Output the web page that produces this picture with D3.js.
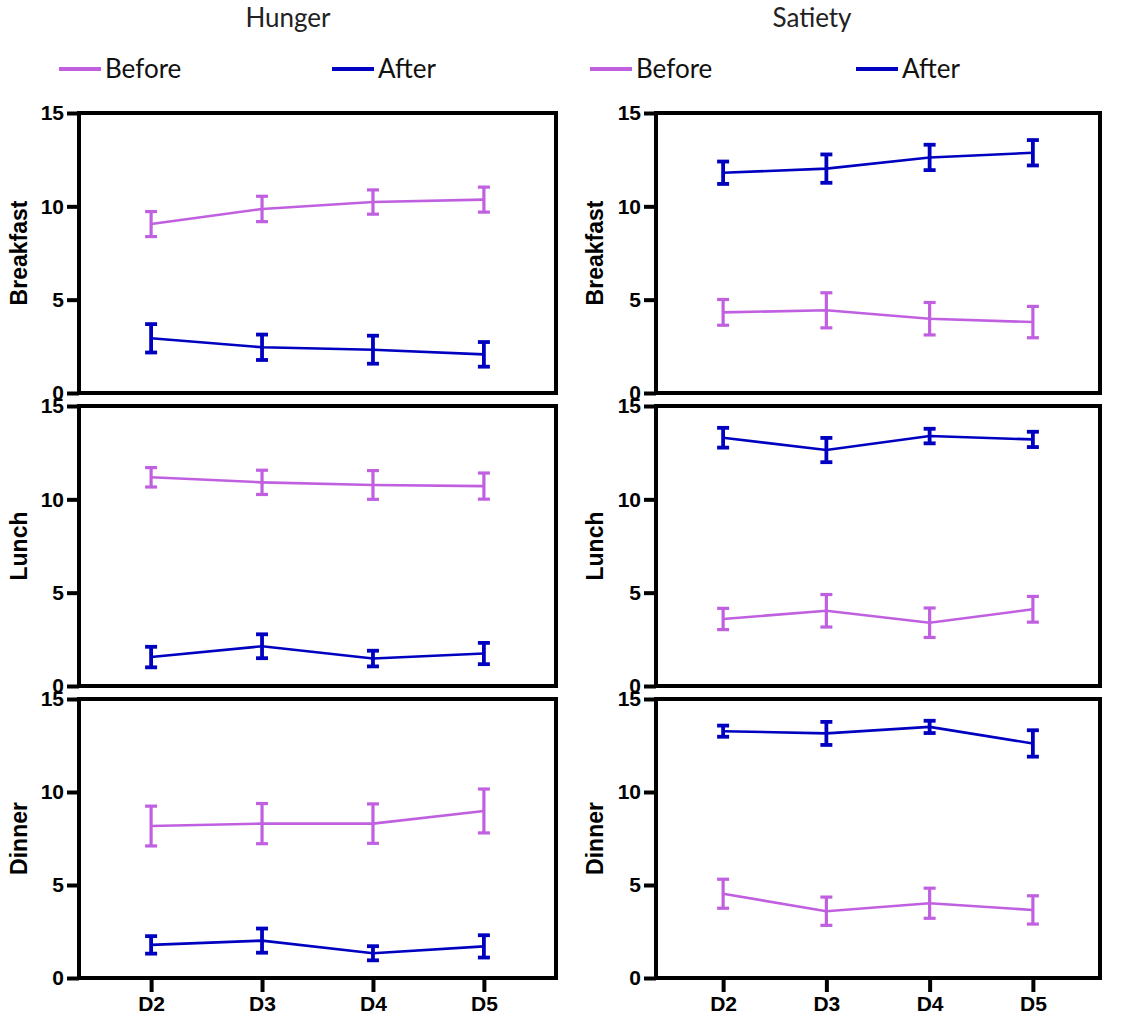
<!DOCTYPE html>
<html><head><meta charset="utf-8">
<script src="https://cdn.jsdelivr.net/npm/d3@7"></script>
<style>body{margin:0;background:#fff}</style>
</head><body>
<script>
// ---------- DATA ----------
const days = ["D2","D3","D4","D5"];
const yTicks = [0,5,10,15];
const columns = ["Hunger","Satiety"];
const meals = ["Breakfast","Lunch","Dinner"];
const seriesNames = ["Before","After"];

// Hunger
const hungerBreakfastBefore = [9.05, 9.86, 10.23, 10.36];
const hungerBreakfastBeforeErr = [0.67, 0.68, 0.65, 0.67];
const hungerBreakfastAfter = [2.93, 2.45, 2.32, 2.07];
const hungerBreakfastAfterErr = [0.76, 0.68, 0.75, 0.66];
const hungerLunchBefore = [11.18, 10.91, 10.77, 10.71];
const hungerLunchBeforeErr = [0.52, 0.65, 0.77, 0.70];
const hungerLunchAfter = [1.55, 2.13, 1.47, 1.74];
const hungerLunchAfterErr = [0.55, 0.64, 0.42, 0.57];
const hungerDinnerBefore = [8.17, 8.30, 8.30, 8.98];
const hungerDinnerBeforeErr = [1.07, 1.08, 1.06, 1.18];
const hungerDinnerAfter = [1.78, 2.01, 1.33, 1.70];
const hungerDinnerAfterErr = [0.47, 0.65, 0.38, 0.60];
// Satiety
const satietyBreakfastBefore = [4.32, 4.43, 3.98, 3.80];
const satietyBreakfastBeforeErr = [0.69, 0.94, 0.87, 0.84];
const satietyBreakfastAfter = [11.80, 12.02, 12.62, 12.87];
const satietyBreakfastAfterErr = [0.60, 0.76, 0.68, 0.68];
const satietyLunchBefore = [3.59, 4.03, 3.39, 4.11];
const satietyLunchBeforeErr = [0.57, 0.87, 0.79, 0.69];
const satietyLunchAfter = [13.30, 12.64, 13.39, 13.21];
const satietyLunchAfterErr = [0.53, 0.65, 0.39, 0.41];
const satietyDinnerBefore = [4.53, 3.59, 4.02, 3.66];
const satietyDinnerBeforeErr = [0.78, 0.76, 0.81, 0.76];
const satietyDinnerAfter = [13.27, 13.15, 13.50, 12.61];
const satietyDinnerAfterErr = [0.30, 0.62, 0.33, 0.71];

const panelData = {
  Hunger: {
    Breakfast: {Before:[hungerBreakfastBefore,hungerBreakfastBeforeErr], After:[hungerBreakfastAfter,hungerBreakfastAfterErr]},
    Lunch: {Before:[hungerLunchBefore,hungerLunchBeforeErr], After:[hungerLunchAfter,hungerLunchAfterErr]},
    Dinner: {Before:[hungerDinnerBefore,hungerDinnerBeforeErr], After:[hungerDinnerAfter,hungerDinnerAfterErr]}
  },
  Satiety: {
    Breakfast: {Before:[satietyBreakfastBefore,satietyBreakfastBeforeErr], After:[satietyBreakfastAfter,satietyBreakfastAfterErr]},
    Lunch: {Before:[satietyLunchBefore,satietyLunchBeforeErr], After:[satietyLunchAfter,satietyLunchAfterErr]},
    Dinner: {Before:[satietyDinnerBefore,satietyDinnerBeforeErr], After:[satietyDinnerAfter,satietyDinnerAfterErr]}
  }
};

// ---------- LAYOUT ----------
const W = 1134, H = 1017;
const colors = {Before:"#c060e0", After:"#0000c0"};
const colX = {Hunger:[79,556], Satiety:[656,1100]};
const rowY = [[113,393],[406,686],[699,978]];
const titleX = {Hunger:288, Satiety:812};
const ylabX = {Hunger:19, Satiety:595};
const legendPos = {Hunger:{Before:59, After:332}, Satiety:{Before:590, After:856}};

const svg = d3.select("body").append("svg").attr("width",W).attr("height",H);
const bold = "'Liberation Sans', Arial, sans-serif";
const reg = "Lato, 'Open Sans', sans-serif";

columns.forEach(col => {
  // Title
  svg.append("text").attr("x",titleX[col]).attr("y",27)
    .attr("text-anchor","middle").attr("font-family",reg).attr("font-size",26)
    .attr("fill","#222").text(col);
  // Legend
  seriesNames.forEach(s => {
    const lx = legendPos[col][s];
    svg.append("line").attr("x1",lx).attr("x2",lx+42).attr("y1",69).attr("y2",69)
      .attr("stroke",colors[s]).attr("stroke-width",4);
    svg.append("text").attr("x",lx+46).attr("y",78)
      .attr("font-family",reg).attr("font-size",26).attr("fill","#111").text(s);
  });

  const x = d3.scalePoint().domain(days).range(colX[col]).padding(0.65);

  meals.forEach((meal, ri) => {
    const [y0, y1] = rowY[ri];
    const y = d3.scaleLinear().domain([0,15]).range([y1,y0]);
    const g = svg.append("g");

    // frame
    g.append("rect").attr("x",colX[col][0]).attr("y",y0)
      .attr("width",colX[col][1]-colX[col][0]).attr("height",y1-y0)
      .attr("fill","none").attr("stroke","#000").attr("stroke-width",4);

    // y axis
    const ya = g.append("g").attr("transform",`translate(${colX[col][0]},0)`)
      .call(d3.axisLeft(y).tickValues(yTicks).tickSize(12).tickPadding(3));
    ya.select(".domain").remove();
    ya.selectAll(".tick line").attr("stroke","#000").attr("stroke-width",4);
    ya.selectAll(".tick text").attr("font-family",bold).attr("font-weight","bold")
      .attr("font-size",21).attr("fill","#000");

    // y label
    g.append("text").attr("transform",`translate(${ylabX[col]},${(y0+y1)/2}) rotate(-90)`)
      .attr("text-anchor","middle").attr("dominant-baseline","central")
      .attr("font-family",bold).attr("font-weight","bold").attr("font-size",23)
      .attr("fill","#000").text(meal);

    // x axis on bottom row
    if (ri === meals.length-1) {
      const xa = g.append("g").attr("transform",`translate(0,${y1})`)
        .call(d3.axisBottom(x).tickSize(14).tickPadding(4));
      xa.select(".domain").remove();
      xa.selectAll(".tick line").attr("stroke","#000").attr("stroke-width",4);
      xa.selectAll(".tick text").attr("font-family",bold).attr("font-weight","bold")
        .attr("font-size",21).attr("fill","#000");
    }

    // series
    seriesNames.forEach(s => {
      const [means, errs] = panelData[col][meal][s];
      const pts = days.map((d,i)=>({d, m:means[i], e:errs[i]}));
      g.append("path").datum(pts)
        .attr("d", d3.line().x(p=>x(p.d)).y(p=>y(p.m)))
        .attr("fill","none").attr("stroke",colors[s]).attr("stroke-width",2.6);
      const sw = s==="After"?3.8:3.2;
      const eb = g.append("g").selectAll("g").data(pts).join("g");
      eb.append("line").attr("x1",p=>x(p.d)).attr("x2",p=>x(p.d))
        .attr("y1",p=>y(p.m+p.e)).attr("y2",p=>y(p.m-p.e))
        .attr("stroke",colors[s]).attr("stroke-width",sw);
      [1,-1].forEach(sg => {
        eb.append("line").attr("x1",p=>x(p.d)-6).attr("x2",p=>x(p.d)+6)
          .attr("y1",p=>y(p.m+sg*p.e)).attr("y2",p=>y(p.m+sg*p.e))
          .attr("stroke",colors[s]).attr("stroke-width",sw);
      });
    });
  });
});
</script>
</body></html>
